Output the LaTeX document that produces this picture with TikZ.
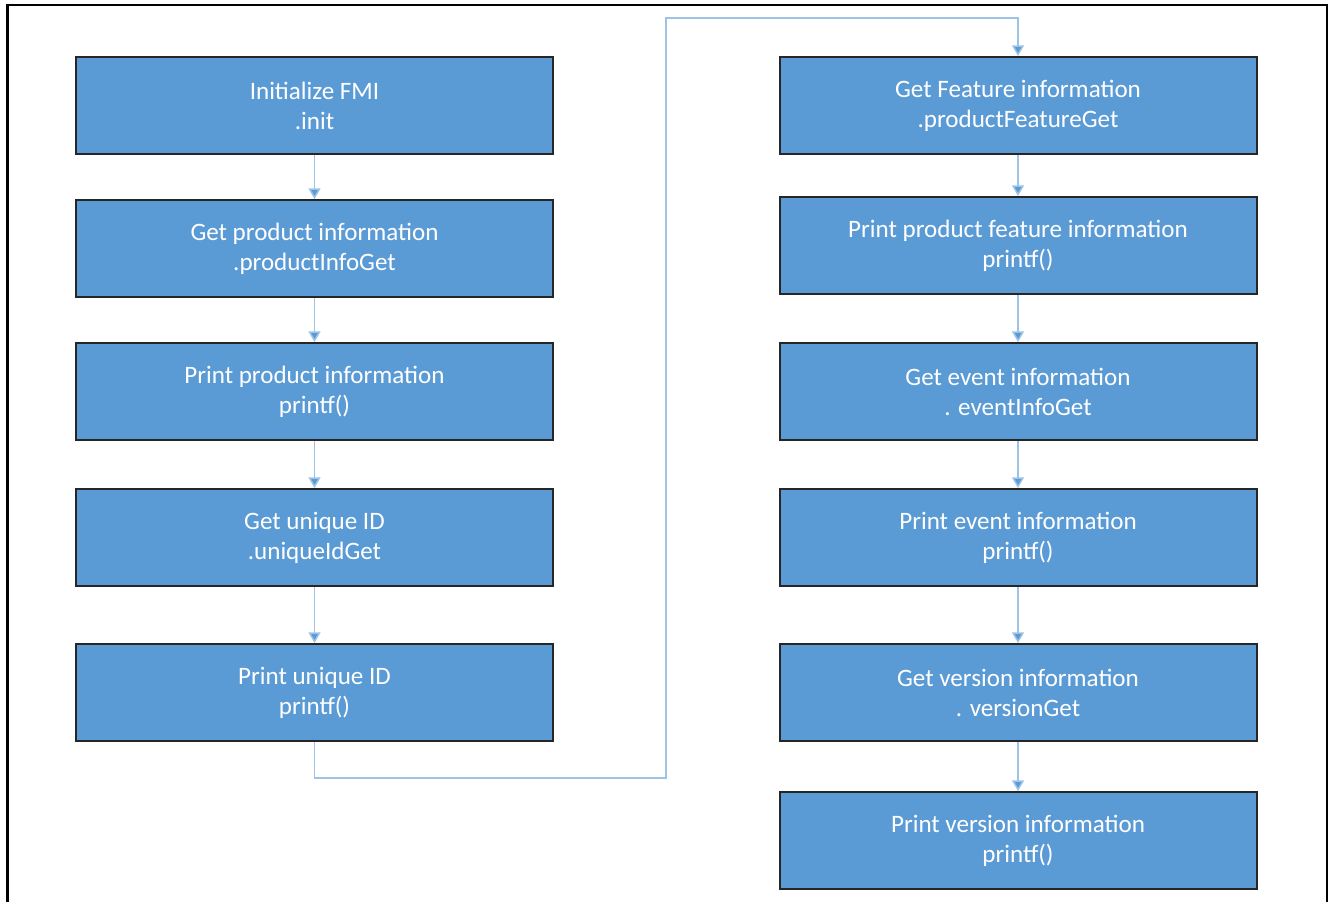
\documentclass[tikz,border=0pt]{standalone}
\usepackage{fontspec}
\setmainfont{Carlito}
\usetikzlibrary{arrows.meta}
\definecolor{boxblue}{HTML}{5B9BD5}
\definecolor{linkblue}{HTML}{9DC3E6}
\definecolor{headblue}{HTML}{5B9BD5}
\tikzset{
  stepbox/.style={draw=black!85, line width=1.5pt, fill=boxblue, minimum width=477*0.75pt, minimum height=97*0.75pt, inner sep=0pt, align=center, text=white, font=\fontsize{18.8}{22.5}\selectfont},
  link/.style={draw=linkblue, line width=1.1pt, -{Triangle[width=9pt,length=8pt,fill=headblue]}, shorten >=0pt}
}
\begin{document}
\begin{tikzpicture}[x=0.75pt,y=-0.75pt]
\useasboundingbox (0,0) rectangle (1330,902);
\draw[line width=2.2pt, black] (7.5,902) -- (7.5,5) -- (1327,5) -- (1327,902);
% left column
\node[stepbox] (a1) at (314.5,105.5) {Initialize FMI\\.init};
\node[stepbox] (a2) at (314.5,248.5) {Get product information\\.productInfoGet};
\node[stepbox] (a3) at (314.5,391.5) {Print product information\\printf()};
\node[stepbox] (a4) at (314.5,537.5) {Get unique ID\\.uniqueIdGet};
\node[stepbox] (a5) at (314.5,692.5) {Print unique ID\\printf()};
% right column
\node[stepbox] (b1) at (1018,105.5) {Get Feature information\\.productFeatureGet};
\node[stepbox] (b2) at (1018,245.5) {Print product feature information\\printf()};
\node[stepbox] (b3) at (1018,391.5) {Get event information\\. eventInfoGet};
\node[stepbox] (b4) at (1018,537.5) {Print event information\\printf()};
\node[stepbox] (b5) at (1018,692.5) {Get version information\\. versionGet};
\node[stepbox] (b6) at (1018,840.5) {Print version information\\printf()};
\draw[link] (a1) -- (a2);
\draw[link] (a2) -- (a3);
\draw[link] (a3) -- (a4);
\draw[link] (a4) -- (a5);
\draw[link] (b1) -- (b2);
\draw[link] (b2) -- (b3);
\draw[link] (b3) -- (b4);
\draw[link] (b4) -- (b5);
\draw[link] (b5) -- (b6);
\coordinate (c1) at (314.5,778);
\coordinate (c2) at (666,778);
\coordinate (c3) at (666,18);
\coordinate (c4) at (1018,18);
\draw[link] (a5.south) -- (c1) -- (c2) -- (c3) -- (c4) -- (b1.north);
\end{tikzpicture}
\end{document}
